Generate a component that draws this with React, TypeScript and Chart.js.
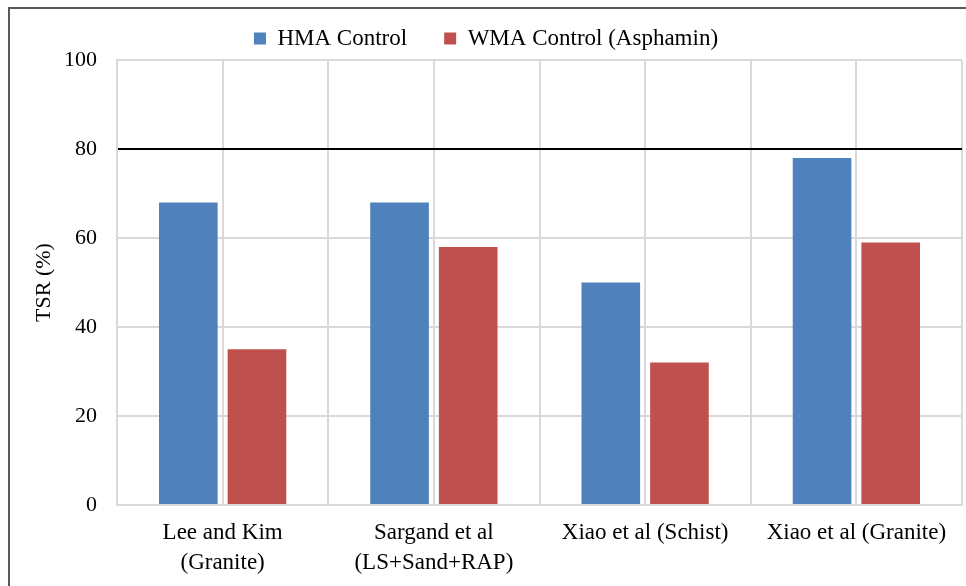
import React, { useEffect, useRef } from "react";
import { Chart, registerables } from "chart.js";

Chart.register(...registerables);

const categories: (string | string[])[] = [
  ["Lee and Kim", "(Granite)"],
  ["Sargand et al", "(LS+Sand+RAP)"],
  "Xiao et al (Schist)",
  "Xiao et al (Granite)",
];
const hmaControl = [68, 68, 50, 78];
const wmaControl = [35, 58, 32, 59];
const seriesNames = ["HMA Control", "WMA Control (Asphamin)"];
const yTicks = { min: 0, max: 100, step: 20 };
const thresholdValue = 80;

const FONT = "'Liberation Serif', 'Times New Roman', serif";

export default function App() {
  const ref = useRef<HTMLCanvasElement | null>(null);

  useEffect(() => {
    if (!ref.current) return;
    const chart = new Chart(ref.current, {
      type: "bar",
      data: {
        labels: categories,
        datasets: [
          {
            label: seriesNames[0],
            data: hmaControl,
            backgroundColor: "#4f81bd",
            barPercentage: 0.854,
            categoryPercentage: 0.65,
          },
          {
            label: seriesNames[1],
            data: wmaControl,
            backgroundColor: "#c0504d",
            barPercentage: 0.854,
            categoryPercentage: 0.65,
          },
        ],
      },
      options: {
        animation: false,
        responsive: true,
        maintainAspectRatio: false,
        layout: { padding: { top: -19, right: 4, left: 0, bottom: 0 } },
        plugins: {
          tooltip: { enabled: false },
          legend: {
            position: "top",
            labels: {
              boxWidth: 12,
              boxHeight: 12,
              padding: 37,
              color: "#000",
              font: { family: FONT, size: 23 },
            },
          },
        },
        scales: {
          x: {
            type: "category",
            position: "bottom",
            offset: true,
            grid: {
              offset: true,
              color: "#d9d9d9",
              lineWidth: 2,
              drawTicks: false,
            },
            border: { display: true, color: "#d9d9d9", width: 2 },
            ticks: {
              color: "#000",
              padding: 13,
              maxRotation: 0,
              autoSkip: false,
              font: { family: FONT, size: 23, lineHeight: 1.3 },
            },
            afterFit: (s: any) => {
              s.height = 81;
            },
          },
          x2: {
            type: "category",
            position: "top",
            labels: categories as any,
            offset: true,
            grid: {
              offset: false,
              color: "#d9d9d9",
              lineWidth: 2,
              drawTicks: false,
            },
            border: { display: false },
            ticks: { display: false },
            afterFit: (s: any) => {
              s.height = 0;
            },
          },
          y: {
            min: yTicks.min,
            max: yTicks.max,
            grid: {
              color: (c: any) =>
                c.tick && c.tick.value === thresholdValue ? "#000" : "#d9d9d9",
              lineWidth: 2,
              drawTicks: false,
            },
            border: { display: true, color: "#d9d9d9", width: 2 },
            ticks: {
              stepSize: yTicks.step,
              color: "#000",
              padding: 20,
              font: { family: FONT, size: 22 },
            },
            title: {
              display: true,
              text: "TSR (%)",
              color: "#000",
              padding: { top: 21, bottom: 0 },
              font: { family: FONT, size: 22 },
            },
            afterFit: (s: any) => {
              s.width = 107;
            },
          },
        },
      },
    });
    return () => chart.destroy();
  }, []);

  return (
    <div
      style={{
        position: "fixed",
        left: 8,
        top: 7,
        width: 958,
        height: 579,
        boxSizing: "border-box",
        borderLeft: "2px solid #595959",
        borderTop: "2px solid #595959",
        overflow: "hidden",
        background: "#fff",
      }}
    >
      <div style={{ position: "relative", width: 956, height: 577 }}>
        <canvas ref={ref} />
      </div>
    </div>
  );
}
